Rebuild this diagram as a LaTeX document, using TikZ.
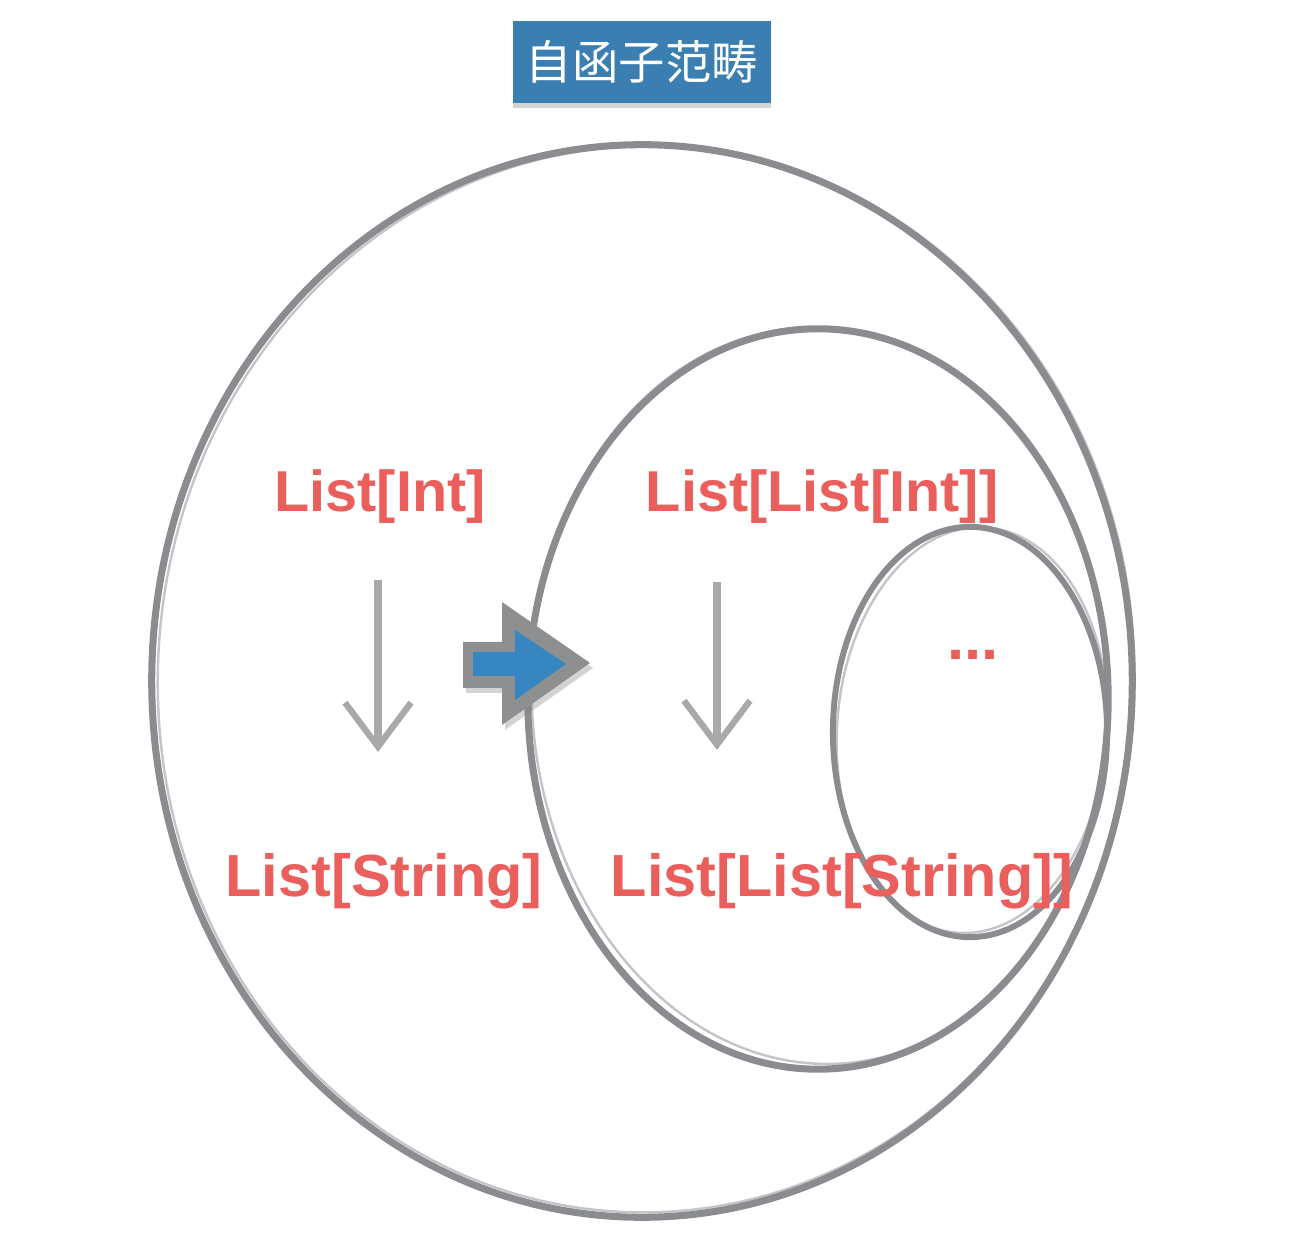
\documentclass[tikz,border=0pt]{standalone}
\usepackage{fontspec}
\setmainfont{Liberation Sans}
\newfontfamily\cjk{Noto Sans CJK SC}
\usetikzlibrary{arrows.meta, shadows}
\definecolor{pencil}{HTML}{8A8C90}
\definecolor{chalk}{HTML}{A8A9A8}
\definecolor{listred}{HTML}{EA5F5C}
\definecolor{titleblue}{HTML}{3B7EB1}
\definecolor{functorblue}{HTML}{3687C1}
\definecolor{functorgray}{HTML}{8E8F90}
\tikzset{
  category/.style={draw=pencil, line width=2pt},
  categorytrace/.style={draw=pencil, line width=0.7pt, opacity=0.5},
  listtype/.style={text=listred, font=\fontsize{#1}{20}\selectfont\bfseries, inner sep=0pt, anchor=base},
  listtype/.default=16.4,
  morphism/.style={draw=chalk, line width=2.3pt, -{Straight Barb[length=0.44cm, width=0.66cm, line width=1.8pt]}},
}

\begin{document}
\begin{tikzpicture}[x=0.01cm, y=-0.01cm]
  \useasboundingbox (0,0) rectangle (1290,1240);
  % title
  \node[fill=titleblue, text=white, font=\cjk\fontsize{13.2}{16}\selectfont,
        minimum width=2.58cm, minimum height=0.82cm,
        drop shadow={shadow xshift=0pt, shadow yshift=-0.05cm, opacity=0.35}] (title) at (642,62) {自函子范畴};

  % categories
  \draw[category] (642,681) ellipse [x radius=4.9cm, y radius=5.36cm];
  \draw[categorytrace, rotate around={-2:(642,681)}] (646,679) ellipse [x radius=4.88cm, y radius=5.33cm];
  \draw[category] (818,699) ellipse [x radius=2.9cm, y radius=3.7cm];
  \draw[categorytrace, rotate around={3:(818,699)}] (820,696) ellipse [x radius=2.88cm, y radius=3.68cm];
  \draw[category, line width=1.7pt] (970,732) ellipse [x radius=1.37cm, y radius=2.05cm];
  \draw[categorytrace, rotate around={-4:(970,732)}] (972,730) ellipse [x radius=1.35cm, y radius=2.03cm];

  % functor
  \fill[functorgray, drop shadow={shadow xshift=0.03cm, shadow yshift=-0.05cm, opacity=0.35}]
    (463,642) -- (502,642) -- (502,602) -- (590,663) -- (502,725) -- (502,688) -- (463,688) -- cycle;
  \fill[functorblue] (473,652) -- (515,652) -- (515,630) -- (566,664) -- (515,700) -- (515,676) -- (473,676) -- cycle;

  % objects
  \node[listtype] (int) at (380,512) {List[Int]};
  \node[listtype=16.9] (str) at (384,897) {List[String]};
  \node[listtype] (lint) at (822,512) {List[List[Int]]};
  \node[listtype=16.9] (lstr) at (842,897) {List[List[String]]};
  \node[listtype=17.5] (more) at (973,660) {...};

  % morphisms
  \coordinate (intmap) at (378,580);
  \coordinate (strmap) at (378,752);
  \coordinate (lintmap) at (717,582);
  \coordinate (lstrmap) at (717,750);
  \draw[morphism] (intmap) -- (strmap);
  \draw[morphism] (lintmap) -- (lstrmap);
\end{tikzpicture}
\end{document}
